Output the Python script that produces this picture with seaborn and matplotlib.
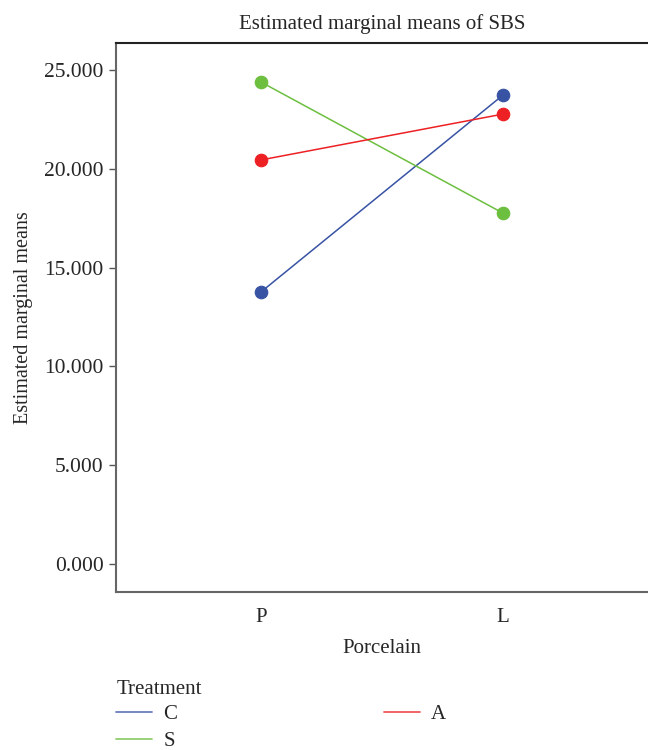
import pandas as pd
import numpy as np
import matplotlib
matplotlib.use("Agg")
import matplotlib.pyplot as plt
import seaborn as sns
from matplotlib.lines import Line2D
from matplotlib.ticker import FormatStrFormatter

porcelain = ["P", "L"]
treatments = ["C", "S", "A"]
means_c = [13.77, 23.73]
means_s = [24.39, 17.76]
means_a = [20.45, 22.77]
colors = {"C": "#3853a4", "S": "#6cbf3f", "A": "#ed2024"}

df = pd.DataFrame({
    "Porcelain": porcelain * 3,
    "Treatment": ["C"] * 2 + ["S"] * 2 + ["A"] * 2,
    "Mean": means_c + means_s + means_a,
})

sns.set_style("white")
plt.rcParams["font.family"] = ["Liberation Serif", "DejaVu Serif"]
plt.rcParams["font.size"] = 15

fig = plt.figure(figsize=(6.48, 7.5), dpi=100)
ax = fig.add_axes([0.179, 0.2107, 0.821, 0.732])

sns.pointplot(data=df, x="Porcelain", y="Mean", hue="Treatment",
              order=porcelain, hue_order=treatments, palette=colors,
              markers="o", markersize=9, linewidth=1.1, errorbar=None,
              ax=ax, legend=False)

ax.set_xlim(-0.6, 1.6)
ax.set_ylim(-1.42, 26.37)
ax.set_yticks([0, 5, 10, 15, 20, 25])
ax.yaxis.set_major_formatter(FormatStrFormatter("%.3f"))
ax.tick_params(axis="y", left=True, length=5, width=1, color="#555555", labelsize=15.5, pad=4)
ax.tick_params(axis="x", bottom=False, labelsize=15, pad=8)

for s in ["left", "bottom"]:
    ax.spines[s].set_color("#666666")
    ax.spines[s].set_linewidth(1.5)
ax.spines["top"].set_color("#222222")
ax.spines["top"].set_linewidth(1.5)
ax.spines["right"].set_visible(False)

ax.set_title("Estimated marginal means of SBS", fontsize=15, pad=10)
ax.set_xlabel("Porcelain", fontsize=15, labelpad=9)
ax.set_ylabel("Estimated marginal means", fontsize=14.5, labelpad=8)

handles = [Line2D([0], [0], color=colors[t], lw=1.3, alpha=0.75) for t in treatments]
leg = fig.legend(handles, treatments, title="Treatment", loc="upper left",
                 bbox_to_anchor=(0.157, 0.113), ncol=2, frameon=False,
                 handlelength=1.7, handletextpad=0.55, columnspacing=9.95,
                 labelspacing=0.38, fontsize=15, title_fontsize=15, borderpad=0.2)
leg._legend_box.align = "left"
leg._legend_box.sep = 4

fig.savefig("out.png", dpi=100)
